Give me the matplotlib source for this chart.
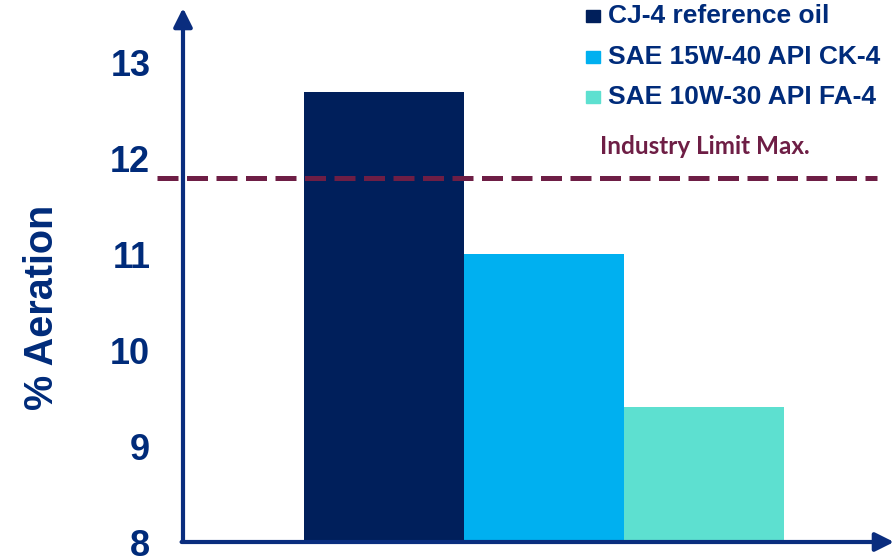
import matplotlib.pyplot as plt
from matplotlib.patches import Rectangle

oils = ["CJ-4 reference oil", "SAE 15W-40 API CK-4", "SAE 10W-30 API FA-4"]
aeration = [12.69, 11.0, 9.41]
colors = ["#001F5B", "#00B0F0", "#5DE0D0"]
limit = 11.8
limit_label = "Industry Limit Max."
yticks = [8, 9, 10, 11, 12, 13]

navy = "#0A2D7E"
text_navy = "#002B7A"
maroon = "#6E1E45"

fig = plt.figure(figsize=(8.94, 5.58), dpi=100)
ax = fig.add_axes([183 / 894, 16 / 558, 711 / 894, 534 / 558])

x = list(range(len(oils)))
ax.bar(x, [v - 8 for v in aeration], bottom=8, width=1.0, color=colors, zorder=2)

ax.set_xlim(-1.256, 3.19)
ax.set_ylim(8, 13.57)

# industry limit
ax.axhline(limit, xmin=(157 - 183) / 711, xmax=(877 - 183) / 711, color=maroon,
           lw=3.6, dashes=(4.2, 1.7), clip_on=False, zorder=3)
ax.text(2.01, 12.13, limit_label, color=maroon, fontsize=17.5, fontweight="bold",
        family="Lato", ha="center", va="center")

# axes with arrows
for s in ax.spines.values():
    s.set_visible(False)
ax.annotate("", xy=(0, 1.0), xytext=(0, 0), xycoords="axes fraction",
            arrowprops=dict(arrowstyle="-|>", color=navy, lw=3, mutation_scale=28,
                            shrinkA=0, shrinkB=0))
ax.annotate("", xy=(1.0, 0), xytext=(-0.002, 0), xycoords="axes fraction",
            arrowprops=dict(arrowstyle="-|>", color=navy, lw=3, mutation_scale=28,
                            shrinkA=0, shrinkB=0))

ax.set_xticks([])
ax.set_yticks(yticks)
ax.set_yticklabels([str(t) for t in yticks], fontsize=26, fontweight="bold",
                   color=text_navy, family="Liberation Sans")
ax.tick_params(axis="y", length=0, pad=23.5)
ax.set_ylabel("% Aeration", fontsize=28.5, fontweight="bold", color=text_navy,
              family="Liberation Sans")
ax.yaxis.set_label_coords(-0.172, 0.44)

# legend
leg_y = [16, 57, 97]
for name, c, py in zip(oils, colors, leg_y):
    fig.add_artist(Rectangle((586 / 894, 1 - (py + 6) / 558), 14 / 894, 12 / 558,
                             transform=fig.transFigure, color=c))
    fig.text(608 / 894, 1 - py / 558, name, fontsize=19, fontweight="bold",
             color=text_navy, family="Liberation Sans", va="center", ha="left")

fig.savefig("out.png", dpi=100)
